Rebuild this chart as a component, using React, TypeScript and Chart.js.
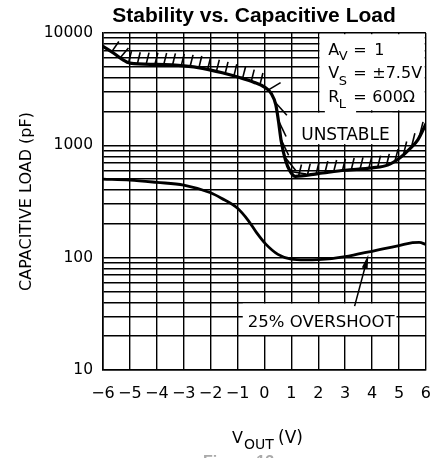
import React, { useEffect, useRef } from 'react';
import { Chart, registerables } from 'chart.js';

Chart.register(...registerables);

// ---- data ----
const stabilityVout = [-6, -5.6, -5.3, -5, -4, -3, -2.3, -1.5, -0.9, -0.4, 0, 0.25, 0.42, 0.52, 0.62, 0.78, 0.95, 1.15, 2, 3, 4, 4.6, 5.05, 5.4, 5.7, 6];
const stabilityLoad = [7600, 6600, 5850, 5400, 5250, 5100, 4850, 4380, 4000, 3650, 3300, 2900, 2300, 1650, 1100, 740, 590, 530, 560, 600, 630, 670, 780, 930, 1120, 1550];

const overshootVout = [-6, -5, -4, -3, -2, -1.6, -1, -0.6, -0.3, 0.05, 0.5, 1, 1.5, 2, 2.5, 3, 3.5, 4, 4.5, 5, 5.5, 5.75, 6];
const overshootLoad = [500, 490, 468, 443, 378, 338, 275, 214, 168, 132, 107, 97, 95.5, 96, 98, 102, 108, 114, 121, 128, 136, 137, 131];

const xTickValues = [-6, -5, -4, -3, -2, -1, 0, 1, 2, 3, 4, 5, 6];
const yLabelValues = [10, 100, 1000, 10000];
const yGridMultipliers = [1, 2, 3, 4, 5, 6, 7, 8, 9];

const chartTitle = 'Stability vs. Capacitive Load';
const yAxisTitle = 'CAPACITIVE LOAD (pF)';
const xAxisMain = 'V';
const xAxisSub = 'OUT';
const xAxisUnit = '(V)';
const figureCaption = 'Figure 13.';

const paramRows = [
  { main: 'A', sub: 'V', value: '1' },
  { main: 'V', sub: 'S', value: '±7.5V' },
  { main: 'R', sub: 'L', value: '600Ω' },
];
const unstableLabel = { text: 'UNSTABLE', x: 3.01, y: 1115 };
const overshootLabel = { text: '25% OVERSHOOT', x: 2.11, y: 24.1 };
const arrowFrom = { x: 3.35, y: 37 };
const arrowTo = { x: 3.86, y: 106 };

// white label boxes (data coords)
const paramBox = { x0: 2, x1: 6, y0: 2000, y1: 10000 };
const whiteBoxes = [
  paramBox,
  { x0: 1.2, x1: 4.8, y0: 1000, y1: 2000 },
  { x0: 2.2, x1: 3.45, y0: 1850, y1: 2150 },
  { x0: -0.85, x1: 4.95, y0: 20, y1: 40 },
];

const yTickValues: number[] = [];
yLabelValues.forEach((d) => {
  if (d === yLabelValues[yLabelValues.length - 1]) {
    yTickValues.push(d);
  } else {
    yGridMultipliers.forEach((m) => yTickValues.push(d * m));
  }
});

const fmtX = (v: number) => (v < 0 ? '\u2212' + Math.abs(v) : String(v));

const sansFont = '"DejaVu Sans", sans-serif';

function hatchAngle(phi: number) {
  // phi: tangent direction in screen degrees (y down); returns hatch direction
  if (phi <= 25) return Math.min(-76, phi - 15);
  if (phi <= 80) return -76 + ((phi - 25) * 139) / 55;
  return phi - 17;
}

const annotationPlugin = {
  id: 'annotations',
  beforeDatasetsDraw(chart: any) {
    const { ctx, scales } = chart;
    const X = scales.x;
    const Y = scales.y;
    ctx.save();
    ctx.fillStyle = '#ffffff';
    for (const b of whiteBoxes) {
      const l = X.getPixelForValue(b.x0);
      const r = X.getPixelForValue(b.x1);
      const t = Y.getPixelForValue(b.y1);
      const bt = Y.getPixelForValue(b.y0);
      ctx.fillRect(l + 1.2, t + 1.2, r - l - 2.4, bt - t - 2.4);
    }
    ctx.restore();
  },
  afterDatasetsDraw(chart: any) {
    const { ctx, scales, chartArea } = chart;
    const X = scales.x;
    const Y = scales.y;

    // ---- hatching along the stability boundary ----
    const pts = chart.getDatasetMeta(0).data as any[];
    const samples: { x: number; y: number }[] = [];
    for (let i = 0; i < pts.length - 1; i++) {
      const a = pts[i];
      const b = pts[i + 1];
      const c1x = a.cp2x ?? a.x, c1y = a.cp2y ?? a.y;
      const c2x = b.cp1x ?? b.x, c2y = b.cp1y ?? b.y;
      const N = 24;
      for (let k = 0; k < N; k++) {
        const t = k / N;
        const mt = 1 - t;
        const x = mt * mt * mt * a.x + 3 * mt * mt * t * c1x + 3 * mt * t * t * c2x + t * t * t * b.x;
        const y = mt * mt * mt * a.y + 3 * mt * mt * t * c1y + 3 * mt * t * t * c2y + t * t * t * b.y;
        samples.push({ x, y });
      }
    }
    const last = pts[pts.length - 1];
    samples.push({ x: last.x, y: last.y });

    ctx.save();
    ctx.beginPath();
    ctx.rect(chartArea.left, chartArea.top, chartArea.right - chartArea.left, chartArea.bottom - chartArea.top);
    ctx.clip();
    ctx.strokeStyle = '#000';
    ctx.lineWidth = 1.6;
    ctx.lineCap = 'butt';
    const spacing = 8.8;
    let d = 0;
    let next = 9;
    for (let i = 1; i < samples.length; i++) {
      const p0 = samples[i - 1];
      const p1 = samples[i];
      const dx = p1.x - p0.x;
      const dy = p1.y - p0.y;
      const L = Math.hypot(dx, dy);
      const Lm = Math.hypot(dx, 0.45 * dy);
      if (L < 1e-6) continue;
      while (next <= d + Lm) {
        const t = (next - d) / Lm;
        const px = p0.x + t * dx;
        const py = p0.y + t * dy;
        const phi = (Math.atan2(dy, dx) * 180) / Math.PI;
        const ang = (hatchAngle(phi) * Math.PI) / 180;
        const steep = Math.abs(dy / L);
        const len = 12 + Math.max(0, steep - 0.5) * 12;
        ctx.beginPath();
        ctx.moveTo(px, py);
        ctx.lineTo(px + Math.cos(ang) * len, py + Math.sin(ang) * len);
        ctx.stroke();
        next += spacing;
      }
      d += Lm;
    }
    ctx.restore();

    // ---- arrow to overshoot curve ----
    const ax0 = X.getPixelForValue(arrowFrom.x);
    const ay0 = Y.getPixelForValue(arrowFrom.y);
    const ax1 = X.getPixelForValue(arrowTo.x);
    const ay1 = Y.getPixelForValue(arrowTo.y);
    const al = Math.hypot(ax1 - ax0, ay1 - ay0);
    const ux = (ax1 - ax0) / al;
    const uy = (ay1 - ay0) / al;
    ctx.save();
    ctx.strokeStyle = '#000';
    ctx.fillStyle = '#000';
    ctx.lineWidth = 1.5;
    ctx.beginPath();
    ctx.moveTo(ax0, ay0);
    ctx.lineTo(ax1 - ux * 10, ay1 - uy * 10);
    ctx.stroke();
    ctx.beginPath();
    ctx.moveTo(ax1, ay1);
    ctx.lineTo(ax1 - ux * 14 - uy * 3, ay1 - uy * 14 + ux * 3);
    ctx.lineTo(ax1 - ux * 14 + uy * 3, ay1 - uy * 14 - ux * 3);
    ctx.closePath();
    ctx.fill();
    ctx.restore();

    // ---- texts in the boxes ----
    ctx.save();
    ctx.fillStyle = '#000';
    ctx.textAlign = 'left';
    ctx.textBaseline = 'alphabetic';
    const bl = X.getPixelForValue(paramBox.x0);
    const bt = Y.getPixelForValue(paramBox.y1);
    const rowBase = [22, 45, 69];
    const subDrop = [5, 7, 6];
    paramRows.forEach((r, i) => {
      const by = bt + rowBase[i];
      ctx.font = '16px ' + sansFont;
      ctx.fillText(r.main, bl + 10, by);
      ctx.fillText('=', bl + 35, by);
      ctx.fillText(r.value, bl + (r.value === '1' ? 56 : 54), by);
      ctx.font = '13px ' + sansFont;
      ctx.fillText(r.sub, bl + 20.5, by + subDrop[i]);
    });

    ctx.textAlign = 'center';
    ctx.font = '17px ' + sansFont;
    ctx.fillText(unstableLabel.text, X.getPixelForValue(unstableLabel.x), Y.getPixelForValue(unstableLabel.y));
    ctx.font = '16.5px ' + sansFont;
    ctx.fillText(overshootLabel.text, X.getPixelForValue(overshootLabel.x), Y.getPixelForValue(overshootLabel.y));
    ctx.restore();
  },
  afterDraw(chart: any) {
    const { ctx } = chart;
    ctx.save();
    ctx.fillStyle = '#000';
    ctx.textBaseline = 'alphabetic';
    ctx.textAlign = 'center';
    ctx.font = 'bold 21px "Liberation Sans", Arial, sans-serif';
    ctx.fillText(chartTitle, 254, 22);

    ctx.textAlign = 'left';
    ctx.font = '16px ' + sansFont;
    ctx.fillText(xAxisMain, 232, 443);
    ctx.font = '14px ' + sansFont;
    ctx.fillText(xAxisSub, 244, 449);
    ctx.font = '17px ' + sansFont;
    ctx.fillText(xAxisUnit, 278, 443);

    ctx.fillStyle = '#aaaaaa';
    ctx.font = 'bold 16px "Liberation Sans", Arial, sans-serif';
    ctx.fillText(figureCaption, 203, 467);
    ctx.restore();
  },
};

export default function App() {
  const ref = useRef<HTMLCanvasElement>(null);
  useEffect(() => {
    const chart = new Chart(ref.current as HTMLCanvasElement, {
      type: 'line',
      data: {
        datasets: [
          {
            data: stabilityVout.map((x, i) => ({ x, y: stabilityLoad[i] })),
            borderColor: '#000',
            borderWidth: 3.2,
            pointRadius: 0,
            cubicInterpolationMode: 'monotone',
            fill: false,
            borderCapStyle: 'round',
          },
          {
            data: overshootVout.map((x, i) => ({ x, y: overshootLoad[i] })),
            borderColor: '#000',
            borderWidth: 2.8,
            pointRadius: 0,
            cubicInterpolationMode: 'monotone',
            fill: false,
            borderCapStyle: 'round',
          },
        ],
      },
      options: {
        responsive: false,
        animation: false,
        layout: { padding: { top: 33, right: 6, bottom: 0, left: 0 } },
        plugins: {
          legend: { display: false },
          tooltip: { enabled: false },
          title: { display: false },
        },
        scales: {
          x: {
            type: 'linear',
            min: -6,
            max: 6,
            afterBuildTicks: (s: any) => {
              s.ticks = xTickValues.map((v) => ({ value: v }));
            },
            afterFit: (s: any) => {
              s.height = 88;
            },
            grid: { color: '#000', lineWidth: 1.4, drawTicks: false },
            border: { color: '#000', width: 1.6 },
            ticks: {
              color: '#000',
              font: { family: 'DejaVu Sans', size: 16 },
              padding: 14,
              maxRotation: 0,
              autoSkip: false,
              callback: (v: any) => fmtX(Number(v)),
            },
          },
          y: {
            type: 'logarithmic',
            min: 10,
            max: 10000,
            afterBuildTicks: (s: any) => {
              s.ticks = yTickValues.map((v) => ({ value: v }));
            },
            afterFit: (s: any) => {
              s.width = 103;
            },
            grid: { color: '#000', lineWidth: 1.4, drawTicks: false },
            border: { color: '#000', width: 1.6 },
            ticks: {
              color: '#000',
              font: { family: 'DejaVu Sans', size: 15.5 },
              padding: 10,
              autoSkip: false,
              callback: (v: any) => (yLabelValues.includes(Number(v)) ? String(v) : ''),
            },
            title: {
              display: true,
              text: yAxisTitle,
              color: '#000',
              font: { family: 'DejaVu Sans', size: 16 },
              padding: { top: 17, bottom: 0 },
            },
          },
        },
      } as any,
      plugins: [annotationPlugin],
    });
    return () => chart.destroy();
  }, []);
  return (
    <canvas
      ref={ref}
      width={445}
      height={458}
      style={{ position: 'fixed', left: 0, top: 0 }}
    />
  );
}
